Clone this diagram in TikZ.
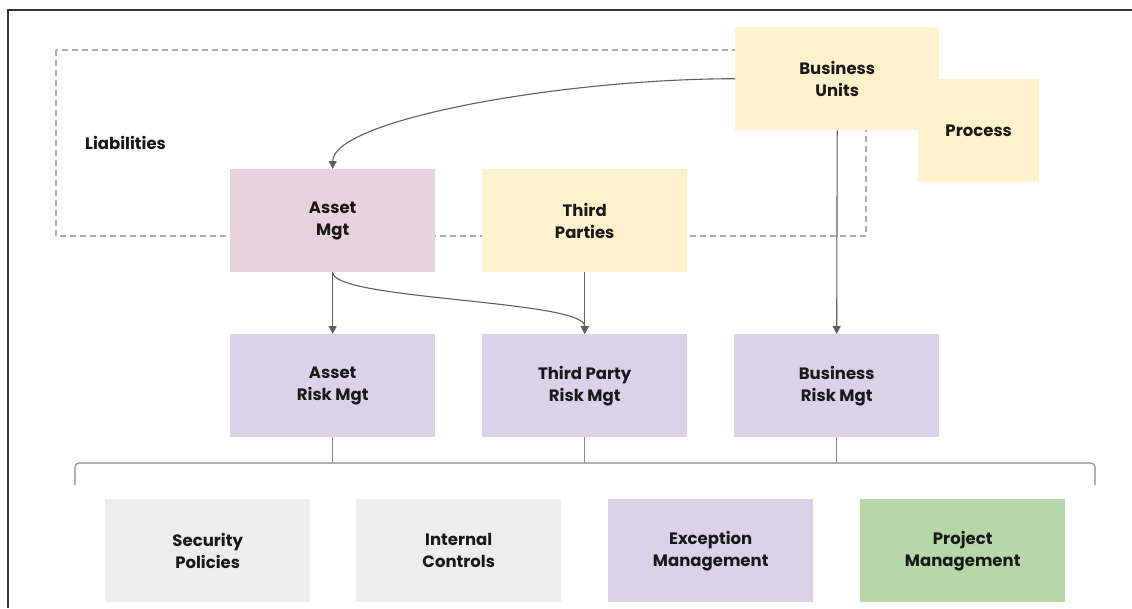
\documentclass[tikz,border=0pt]{standalone}
\usepackage{fontspec}
\setmainfont{Poppins}
\usetikzlibrary{arrows.meta}
\definecolor{pinkfill}{HTML}{E8D2DC}
\definecolor{yellowfill}{HTML}{FFF1CC}
\definecolor{lavfill}{HTML}{D9D2E9}
\definecolor{greyfill}{HTML}{EDEDED}
\definecolor{greenfill}{HTML}{B6D7A8}
\definecolor{linkgrey}{HTML}{5F5F5F}
\definecolor{dashgrey}{HTML}{ABABAB}
\definecolor{brackgrey}{HTML}{888888}
\definecolor{framegrey}{HTML}{333333}
\tikzset{
  labelfont/.style={font=\fontsize{16.5}{22}\selectfont\bfseries, text=black!90},
  box/.style={anchor=north west, minimum width=205pt, minimum height=103pt,
    inner sep=0pt, align=center, labelfont},
  link/.style={draw=linkgrey, line width=1.1pt,
    -{Triangle[length=8pt,width=8pt]}},
  bracket/.style={draw=brackgrey, line width=1.1pt, rounded corners=4pt},
}
\begin{document}
\begin{tikzpicture}[x=1pt,y=-1pt]
\useasboundingbox (0,0) rectangle (1132,608);
\fill[white] (0,0) rectangle (1132,608);
% open frame along the top and left
\draw[framegrey, line width=1.4pt] (1132,10) -- (8,10) -- (8,608);
% liabilities zone
\draw[dashgrey, line width=1.1pt, dash pattern=on 6pt off 4pt]
  (56,50) rectangle (866,236);
\node[anchor=west, inner sep=0pt, labelfont] (liab) at (85,143) {Liabilities};
% upper boxes
\node[box, fill=yellowfill, minimum width=204pt] (bu) at (735,27) {Business\\Units};
\node[box, fill=yellowfill, minimum width=121pt] (proc) at (918,79) {Process};
\node[box, fill=pinkfill] (am) at (230,169) {Asset\\Mgt};
\node[box, fill=yellowfill] (tp) at (482,169) {Third\\Parties};
% risk management boxes
\node[box, fill=lavfill] (arm) at (230,334) {Asset\\Risk Mgt};
\node[box, fill=lavfill] (tprm) at (482,334) {Third Party\\Risk Mgt};
\node[box, fill=lavfill] (brm) at (734,334) {Business\\Risk Mgt};
% supporting functions
\node[box, fill=greyfill] (sp) at (105,499) {Security\\Policies};
\node[box, fill=greyfill] (ic) at (356,499) {Internal\\Controls};
\node[box, fill=lavfill] (em) at (608,499) {Exception\\Management};
\node[box, fill=greenfill] (pm) at (860,499) {Project\\Management};
% connectors
\draw[link] (bu.west) .. controls (560,79) and (am.north |- 0,120) .. (am.north);
\draw[link] (am.south) -- (arm.north);
\draw[link] (tp.south) -- (tprm.north);
\draw[link] (am.south) .. controls (333,300) and (585,300) .. (tprm.north);
\draw[link] (bu.south) -- (brm.north);
% bracket over the supporting functions
\coordinate (bl) at (75,485);
\coordinate (br) at (1095,485);
\draw[bracket] (bl) -- (75,463) -- (1095,463) -- (br);
\draw[bracket] (arm.south) -- (arm.south |- 0,463);
\draw[bracket] (tprm.south) -- (tprm.south |- 0,463);
\draw[bracket] (brm.south) -- (brm.south |- 0,463);
\end{tikzpicture}
\end{document}
